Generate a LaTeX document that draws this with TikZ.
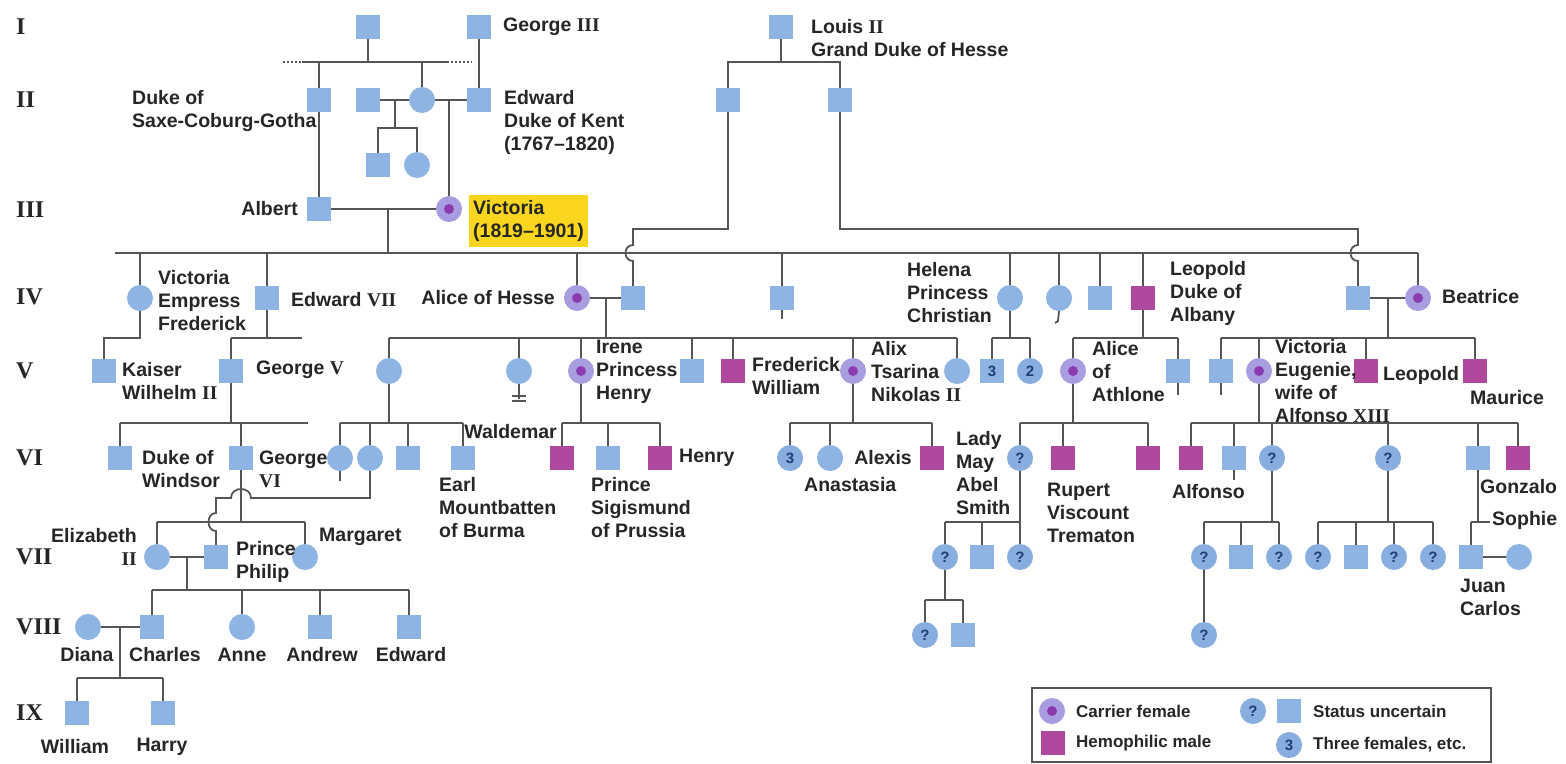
\documentclass[tikz,border=0pt]{standalone}
\usepackage{fontspec}
\setmainfont{Liberation Sans}
\newfontfamily\serifnum{Liberation Serif}
\usetikzlibrary{backgrounds}
\definecolor{pblue}{HTML}{8DB4E2}
\definecolor{qblue}{HTML}{88AEDF}
\definecolor{hmag}{HTML}{B0489E}
\definecolor{cpurple}{HTML}{A89DE0}
\definecolor{cdot}{HTML}{8A3BAE}
\definecolor{lnc}{HTML}{555555}
\definecolor{navy}{HTML}{1F3C78}
\definecolor{vyellow}{HTML}{FAD51E}
\definecolor{txt}{HTML}{262626}
\newcommand\lblfont{\fontsize{19.5}{23}\selectfont\bfseries}
\newcommand\genfont{\fontsize{24}{26}\selectfont\serifnum\bfseries}
\newcommand\qfont{\fontsize{15}{17}\selectfont\bfseries}
\newcommand\legfont{\fontsize{17}{20}\selectfont\bfseries}
\newcommand\RN[1]{{\serifnum #1}}
\begin{document}
\begin{tikzpicture}[x=1pt,y=-1pt,
  ln/.style={draw=lnc,line width=1.8pt},
  person/.style={inner sep=0pt,outer sep=0pt,draw=none},
  msq/.style={person,rectangle,minimum size=24pt,fill=pblue},
  fcir/.style={person,circle,minimum size=26pt,fill=pblue},
  carrier/.style={person,circle,minimum size=26pt,fill=cpurple,
    path picture={\fill[cdot] (path picture bounding box.center) circle (5pt);}},
  hemo/.style={person,rectangle,minimum size=24pt,fill=hmag},
  unk/.style={fcir,fill=qblue,font=\qfont,text=navy},
  numsq/.style={msq,font=\qfont,text=navy},
  numcir/.style={fcir,fill=qblue,font=\qfont,text=navy},
  lbl/.style={inner sep=0pt,align=left,font=\lblfont,text=txt},
  gen/.style={inner sep=0pt,anchor=west,font=\genfont,text=txt},
  legtext/.style={inner sep=0pt,anchor=west,font=\legfont,text=txt}]
\useasboundingbox (0,0) rectangle (1566,763);

% generation numerals
\node[gen] (gI) at (16,27) {I};
\node[gen] (gII) at (16,100) {II};
\node[gen] (gIII) at (16,210) {III};
\node[gen] (gIV) at (16,297) {IV};
\node[gen] (gV) at (16,371) {V};
\node[gen] (gVI) at (16,458) {VI};
\node[gen] (gVII) at (16,557) {VII};
\node[gen] (gVIII) at (16,627) {VIII};
\node[gen] (gIX) at (16,713) {IX};

% generation I
\node[msq] (gI1) at (368,27) {};
\node[msq] (geo3) at (479,27) {};
\node[msq] (louis) at (781,27) {};
% generation II
\node[msq] (saxe) at (319,100) {};
\node[msq] (lein) at (368,100) {};
\node[fcir] (vmum) at (422,100) {};
\node[msq] (kent) at (479,100) {};
\node[msq] (hes1) at (728,100) {};
\node[msq] (hes2) at (840,100) {};
\node[msq] (lk1) at (378,165) {};
\node[fcir] (lk2) at (417,165) {};
% generation III
\node[msq] (albert) at (319,209) {};
\node[carrier] (vic) at (449,209) {};
% generation IV
\node[fcir] (vicE) at (140,298) {};
\node[msq] (edw7) at (267,298) {};
\node[carrier] (aliceH) at (577,298) {};
\node[msq] (louisH) at (633,298) {};
\node[msq] (alfred) at (782,298) {};
\node[fcir] (helena) at (1010,298) {};
\node[fcir] (louise) at (1059,298) {};
\node[msq] (arthur) at (1100,298) {};
\node[hemo] (leoA) at (1143,298) {};
\node[msq] (henryB) at (1358,298) {};
\node[carrier] (bea) at (1418,298) {};
% generation V
\node[msq] (kaiser) at (104,371) {};
\node[msq] (geo5) at (231,371) {};
\node[fcir] (vicH) at (389,371) {};
\node[fcir] (ella) at (519,371) {};
\node[carrier] (irene) at (581,371) {};
\node[msq] (ernst) at (692,371) {};
\node[hemo] (frit) at (733,371) {};
\node[carrier] (alix) at (853,371) {};
\node[fcir] (marie) at (957,371) {};
\node[numsq] (hm3) at (992,371) {3};
\node[numcir] (hf2) at (1030,371) {2};
\node[carrier] (aliceA) at (1073,371) {};
\node[msq] (charlesE) at (1178,371) {};
\node[msq] (alexB) at (1221,371) {};
\node[carrier] (ena) at (1259,371) {};
\node[hemo] (leoB) at (1366,371) {};
\node[hemo] (maur) at (1475,371) {};
% generation VI
\node[msq] (windsor) at (120,458) {};
\node[msq] (geo6) at (241,458) {};
\node[fcir] (vb1) at (340,458) {};
\node[fcir] (vb2) at (370,458) {};
\node[msq] (vb3) at (408,458) {};
\node[msq] (mount) at (463,458) {};
\node[hemo] (wald) at (562,458) {};
\node[msq] (sigis) at (608,458) {};
\node[hemo] (henryP) at (660,458) {};
\node[numcir] (ax3) at (790,458) {3};
\node[fcir] (anast) at (830,458) {};
\node[hemo] (alexis) at (932,458) {};
\node[unk] (lmay) at (1020,458) {?};
\node[hemo] (rupert) at (1063,458) {};
\node[hemo] (maurT) at (1148,458) {};
\node[hemo] (alfonso) at (1191,458) {};
\node[msq] (jaime) at (1234,458) {};
\node[unk] (ea1) at (1272,458) {?};
\node[unk] (ea2) at (1388,458) {?};
\node[msq] (juanB) at (1478,458) {};
\node[hemo] (gonz) at (1518,458) {};
% generation VII
\node[fcir] (eliz) at (157,557) {};
\node[msq] (philip) at (216,557) {};
\node[fcir] (marg) at (305,557) {};
\node[unk] (lm1) at (945,557) {?};
\node[msq] (lm2) at (982,557) {};
\node[unk] (lm3) at (1020,557) {?};
\node[unk] (e1a) at (1204,557) {?};
\node[msq] (e1b) at (1241,557) {};
\node[unk] (e1c) at (1279,557) {?};
\node[unk] (e2a) at (1318,557) {?};
\node[msq] (e2b) at (1356,557) {};
\node[unk] (e2c) at (1394,557) {?};
\node[unk] (e2d) at (1433,557) {?};
\node[msq] (jcarlos) at (1471,557) {};
\node[fcir] (sophie) at (1519,557) {};
% generation VIII
\node[fcir] (diana) at (88,627) {};
\node[msq] (charles) at (152,627) {};
\node[fcir] (anne) at (242,627) {};
\node[msq] (andrew) at (320,627) {};
\node[msq] (edward) at (409,627) {};
\node[unk] (lg1) at (925,635) {?};
\node[msq] (lg2) at (963,635) {};
\node[unk] (eg1) at (1204,635) {?};
% generation IX
\node[msq] (william) at (77,713) {};
\node[msq] (harry) at (163,713) {};

% junction points of the sibling bars
\coordinate (b2L) at (302,62);
\coordinate (b2R) at (447,62);
\coordinate (bH) at (781,62);
\coordinate (jLein) at (395,100);
\coordinate (bLein) at (395,128);
\coordinate (jVic) at (388,209);
\coordinate (bIV) at (388,253);
\coordinate (bIVL) at (115,253);
\coordinate (bIVR) at (1418,253);
\coordinate (bV) at (0,338);
\coordinate (bVI) at (0,423);
\coordinate (bVII) at (0,522);

\begin{scope}[on background layer]
\fill[white] (0,0) rectangle (1566,763);
% generation I to III
\draw[ln,dash pattern=on 2pt off 2pt] (283,62) -- (b2L);
\draw[ln,dash pattern=on 2pt off 2pt] (b2R) -- (472,62);
\draw[ln] (b2L) -- (b2R);
\draw[ln] (gI1.south) -- (gI1.south |- b2L);
\draw[ln] (saxe.north) -- (saxe.north |- b2L);
\draw[ln] (vmum.north) -- (vmum.north |- b2L);
\draw[ln] (geo3.south) -- (kent.north);
\draw[ln] (lein.east) -- (vmum.west);
\draw[ln] (vmum.east) -- (kent.west);
\draw[ln] (jLein) -- (bLein);
\draw[ln] (lk1.north) -- (lk1.north |- bLein) -- (lk2.north |- bLein) -- (lk2.north);
\draw[ln] (vic.north |- vmum.east) -- (vic.north);
\draw[ln] (saxe.south) -- (albert.north);
\draw[ln] (albert.east) -- (vic.west);
\draw[ln] (jVic) -- (bIV);
% Hesse line
\draw[ln] (louis.south) -- (bH);
\draw[ln] (hes1.north) -- (hes1.north |- bH) -- (hes2.north |- bH) -- (hes2.north);
\draw[ln] (hes1.south) -- (728,229) -- (633,229) -- (633,245)
  .. controls (623,245) and (623,261) .. (633,261) -- (louisH.north);
\draw[ln] (hes2.south) -- (840,229) -- (1358,229) -- (1358,245)
  .. controls (1348,245) and (1348,261) .. (1358,261) -- (henryB.north);
% Victoria's children
\draw[ln] (bIVL) -- (bIVR);
\foreach \n in {vicE,edw7,aliceH,alfred,helena,louise,arthur,leoA,bea}
  \draw[ln] (\n.north) -- (\n.north |- bIV);
\draw[ln] (alfred.south) -- ++(0,9);
\draw[ln] (louise.south) -- ++(-1,10) -- ++(-3,2);
% generation V bars
\draw[ln] (vicE.south) -- (vicE.south |- bV) -- (kaiser.north |- bV) -- (kaiser.north);
\draw[ln] (edw7.south) -- (edw7.south |- bV);
\draw[ln] (geo5.north |- bV) -- (302,338);
\draw[ln] (geo5.north) -- (geo5.north |- bV);
\draw[ln] (aliceH.east) -- (louisH.west);
\draw[ln] (606,298) -- (606,338);
\draw[ln] (vicH.north |- bV) -- (marie.north |- bV);
\foreach \n in {vicH,ella,irene,ernst,frit,alix,marie}
  \draw[ln] (\n.north) -- (\n.north |- bV);
\draw[ln] (helena.south) -- (helena.south |- bV);
\draw[ln] (hm3.north |- bV) -- (hf2.north |- bV);
\draw[ln] (hm3.north) -- (hm3.north |- bV);
\draw[ln] (hf2.north) -- (hf2.north |- bV);
\draw[ln] (leoA.south) -- (leoA.south |- bV);
\draw[ln] (aliceA.north |- bV) -- (charlesE.north |- bV);
\draw[ln] (aliceA.north) -- (aliceA.north |- bV);
\draw[ln] (charlesE.north) -- (charlesE.north |- bV);
\draw[ln] (henryB.east) -- (bea.west);
\draw[ln] (1388,298) -- (1388,338);
\draw[ln] (alexB.north |- bV) -- (maur.north |- bV);
\foreach \n in {alexB,ena,leoB,maur}
  \draw[ln] (\n.north) -- (\n.north |- bV);
\draw[ln] (charlesE.south) -- ++(0,12);
\draw[ln] (alexB.south) -- ++(0,12);
\draw[ln] (ella.south) -- (519,399);
\draw[ln,line width=1.2pt] (512,396) -- (526,396) (512,401) -- (526,401);
% generation VI bars
\draw[ln] (geo5.south) -- (geo5.south |- bVI);
\draw[ln] (windsor.north |- bVI) -- (308,423);
\draw[ln] (windsor.north) -- (windsor.north |- bVI);
\draw[ln] (geo6.north) -- (geo6.north |- bVI);
\draw[ln] (vicH.south) -- (vicH.south |- bVI);
\draw[ln] (vb1.north |- bVI) -- (mount.north |- bVI);
\foreach \n in {vb1,vb2,vb3,mount}
  \draw[ln] (\n.north) -- (\n.north |- bVI);
\draw[ln] (vb1.south) -- ++(0,10);
\draw[ln] (irene.south) -- (irene.south |- bVI);
\draw[ln] (wald.north |- bVI) -- (henryP.north |- bVI);
\foreach \n in {wald,sigis,henryP}
  \draw[ln] (\n.north) -- (\n.north |- bVI);
\draw[ln] (alix.south) -- (alix.south |- bVI);
\draw[ln] (ax3.north |- bVI) -- (alexis.north |- bVI);
\foreach \n in {ax3,anast,alexis}
  \draw[ln] (\n.north) -- (\n.north |- bVI);
\draw[ln] (aliceA.south) -- (aliceA.south |- bVI);
\draw[ln] (lmay.north |- bVI) -- (maurT.north |- bVI);
\foreach \n in {lmay,rupert,maurT}
  \draw[ln] (\n.north) -- (\n.north |- bVI);
\draw[ln] (ena.south) -- (ena.south |- bVI);
\draw[ln] (alfonso.north |- bVI) -- (gonz.north |- bVI);
\foreach \n in {alfonso,jaime,ea1,ea2,juanB,gonz}
  \draw[ln] (\n.north) -- (\n.north |- bVI);
\draw[ln] (jaime.south) -- ++(0,10);
% generation VII bars
\draw[ln] (geo6.south) -- (geo6.south |- bVII);
\draw[ln] (eliz.north |- bVII) -- (marg.north |- bVII);
\draw[ln] (eliz.north) -- (eliz.north |- bVII);
\draw[ln] (marg.north) -- (marg.north |- bVII);
\draw[ln] (vb2.south) -- (370,498) -- (251,498)
  .. controls (251,486) and (231,486) .. (231,498) -- (216,498) -- (216,513)
  .. controls (206,513) and (206,531) .. (216,531) -- (philip.north);
\draw[ln] (lmay.south) -- (lm3.north);
\draw[ln] (lm1.north |- bVII) -- (lm3.north |- bVII);
\draw[ln] (lm1.north) -- (lm1.north |- bVII);
\draw[ln] (lm2.north) -- (lm2.north |- bVII);
\draw[ln] (lm1.south) -- (945,600);
\draw[ln] (lg1.north |- 0,600) -- (lg2.north |- 0,600);
\draw[ln] (lg1.north) -- (lg1.north |- 0,600);
\draw[ln] (lg2.north) -- (lg2.north |- 0,600);
\draw[ln] (ea1.south) -- (ea1.south |- bVII);
\draw[ln] (e1a.north |- bVII) -- (e1c.north |- bVII);
\foreach \n in {e1a,e1b,e1c}
  \draw[ln] (\n.north) -- (\n.north |- bVII);
\draw[ln] (e1a.south) -- (eg1.north);
\draw[ln] (ea2.south) -- (ea2.south |- bVII);
\draw[ln] (e2a.north |- bVII) -- (e2d.north |- bVII);
\foreach \n in {e2a,e2b,e2c,e2d}
  \draw[ln] (\n.north) -- (\n.north |- bVII);
\draw[ln] (juanB.south) -- (juanB.south |- bVII);
\draw[ln] (jcarlos.north |- bVII) -- (1490,522);
\draw[ln] (jcarlos.north) -- (jcarlos.north |- bVII);
\draw[ln] (jcarlos.east) -- (sophie.west);
% generations VIII and IX
\draw[ln] (eliz.east) -- (philip.west);
\draw[ln] (187,557) -- (187,590);
\draw[ln] (charles.north |- 0,590) -- (edward.north |- 0,590);
\foreach \n in {charles,anne,andrew,edward}
  \draw[ln] (\n.north) -- (\n.north |- 0,590);
\draw[ln] (diana.east) -- (charles.west);
\draw[ln] (120,627) -- (120,678);
\draw[ln] (william.north |- 0,678) -- (harry.north |- 0,678);
\draw[ln] (william.north) -- (william.north |- 0,678);
\draw[ln] (harry.north) -- (harry.north |- 0,678);
\end{scope}

% names
\node[lbl,anchor=west] (tgeo3) at (503,27) {George \RN{III}};
\node[lbl,anchor=west] (tlouis) at (811,38) {Louis \RN{II}\\Grand Duke of Hesse};
\node[lbl,anchor=west] (tsaxe) at (132,111) {Duke of\\Saxe-Coburg-Gotha};
\node[lbl,anchor=west] (tkent) at (504,122) {Edward\\Duke of Kent\\(1767–1820)};
\node[lbl,anchor=east] (talbert) at (298,209) {Albert};
\node[lbl,anchor=west,fill=vyellow,inner xsep=4pt,inner ysep=5pt] (tvic) at (469,221) {Victoria\\(1819–1901)};
\node[lbl,anchor=west] (tvicE) at (158,301) {Victoria\\Empress\\Frederick};
\node[lbl,anchor=west] (tedw7) at (291,300) {Edward \RN{VII}};
\node[lbl,anchor=east] (taliceH) at (555,298) {Alice of Hesse};
\node[lbl,anchor=west] (thelena) at (907,293) {Helena\\Princess\\Christian};
\node[lbl,anchor=west] (tleoA) at (1170,293) {Leopold\\Duke of\\Albany};
\node[lbl,anchor=west] (tbea) at (1442,297) {Beatrice};
\node[lbl,anchor=west] (tkaiser) at (122,381) {Kaiser\\Wilhelm \RN{II}};
\node[lbl,anchor=west] (tgeo5) at (256,370) {George \RN{V}};
\node[lbl,anchor=west] (tirene) at (596,372) {Irene\\Princess\\Henry};
\node[lbl,anchor=west] (tfrit) at (752,376) {Frederick\\William};
\node[lbl,anchor=west] (talix) at (871,372) {Alix\\Tsarina\\Nikolas \RN{II}};
\node[lbl,anchor=west] (taliceA) at (1092,372) {Alice\\of\\Athlone};
\node[lbl,anchor=west] (tena) at (1275,381) {Victoria\\Eugenie,\\wife of\\Alfonso \RN{XIII}};
\node[lbl,anchor=west] (tleoB) at (1383,375) {Leopold};
\node[lbl,anchor=west] (tmaur) at (1470,398) {Maurice};
\node[lbl,anchor=west] (twindsor) at (142,469) {Duke of\\Windsor};
\node[lbl,anchor=west] (tgeo6) at (259,469) {George\\\RN{VI}};
\node[lbl,anchor=east] (twald) at (557,432) {Waldemar};
\node[lbl,anchor=west] (thenryP) at (679,458) {Henry};
\node[lbl,anchor=west] (tmount) at (439,508) {Earl\\Mountbatten\\of Burma};
\node[lbl,anchor=west] (tsigis) at (591,508) {Prince\\Sigismund\\of Prussia};
\node[lbl,anchor=west] (tanast) at (804,485) {Anastasia};
\node[lbl,anchor=east] (talexis) at (912,458) {Alexis};
\node[lbl,anchor=west] (tlmay) at (956,473) {Lady\\May\\Abel\\Smith};
\node[lbl,anchor=west] (trupert) at (1047,513) {Rupert\\Viscount\\Trematon};
\node[lbl,anchor=west] (talfonso) at (1172,492) {Alfonso};
\node[lbl,anchor=west] (tgonz) at (1480,487) {Gonzalo};
\node[lbl,anchor=west] (tsophie) at (1492,520) {Sophie};
\node[lbl,anchor=west] (tjcarlos) at (1460,597) {Juan\\Carlos};
\node[lbl,anchor=east,align=right] (teliz) at (137,547) {Elizabeth\\\RN{II}};
\node[lbl,anchor=west] (tphilip) at (236,562) {Prince\\Philip};
\node[lbl,anchor=west] (tmarg) at (319,537) {Margaret};
\node[lbl] (tdiana) at (87,655) {Diana};
\node[lbl] (tcharles) at (165,655) {Charles};
\node[lbl] (tanne) at (242,655) {Anne};
\node[lbl] (tandrew) at (322,655) {Andrew};
\node[lbl] (tedward) at (411,655) {Edward};
\node[lbl] (twilliam) at (75,747) {William};
\node[lbl] (tharry) at (162,747) {Harry};

% key
\draw[draw=lnc,line width=1.2pt] (1032,688) rectangle (1491,762);
\node[carrier] (kc) at (1052,711) {};
\node[legtext] (kct) at (1076,711) {Carrier female};
\node[hemo] (kh) at (1053,743) {};
\node[legtext] (kht) at (1076,743) {Hemophilic male};
\node[unk] (kq) at (1253,711) {?};
\node[msq] (ks) at (1289,711) {};
\node[legtext] (kst) at (1313,711) {Status uncertain};
\node[numcir] (k3) at (1289,745) {3};
\node[legtext] (k3t) at (1313,745) {Three females, etc.};
\end{tikzpicture}
\end{document}
